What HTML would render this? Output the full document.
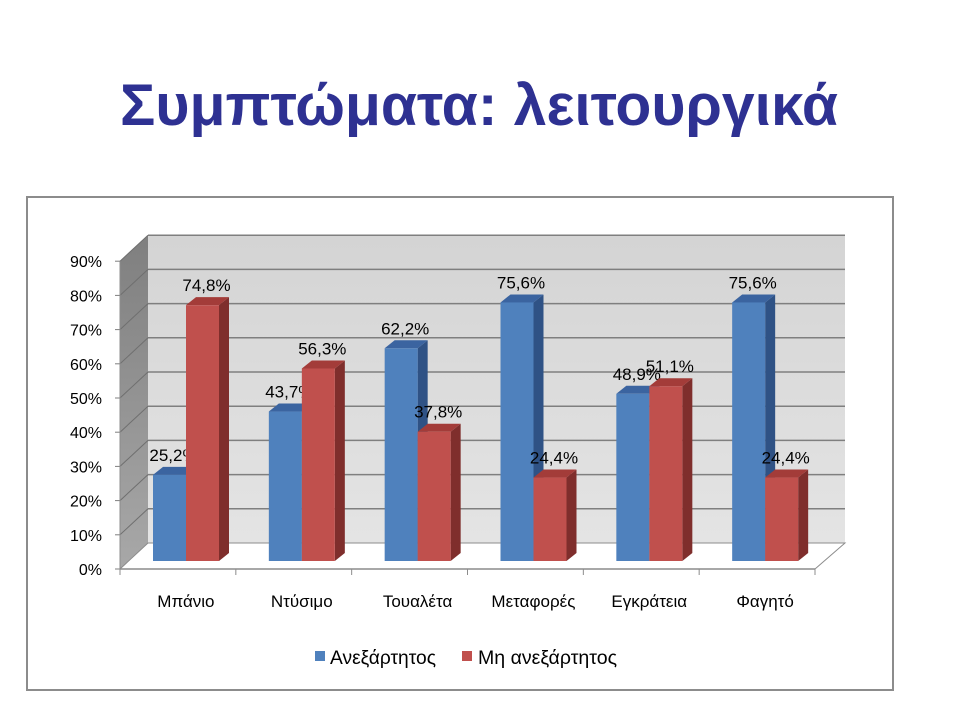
<!DOCTYPE html>
<html><head><meta charset="utf-8"><style>
body{margin:0;background:#fff;}
svg text{font-family:"Liberation Sans","DejaVu Sans",sans-serif;}
</style></head><body>
<svg width="960" height="720" xmlns="http://www.w3.org/2000/svg">
<defs>
<linearGradient id="wall" x1="0" y1="0" x2="0" y2="1"><stop offset="0" stop-color="#d4d4d4"/><stop offset="1" stop-color="#e4e4e4"/></linearGradient>
<linearGradient id="side" x1="0" y1="0" x2="0" y2="1"><stop offset="0" stop-color="#7f7f7f"/><stop offset="1" stop-color="#a8a8a8"/></linearGradient>
</defs>
<text x="120" y="125" font-size="58" font-weight="bold" fill="#2e3192" textLength="718" lengthAdjust="spacingAndGlyphs">Συμπτώματα: λειτουργικά</text>
<rect x="27" y="197" width="866" height="493" fill="#fff" stroke="#8c8c8c" stroke-width="2"/>
<g id="chart"></g>
<g>
<rect x="315" y="651" width="10" height="10" fill="#4f81bd"/>
<text x="330" y="664" font-size="19" fill="#000" textLength="106" lengthAdjust="spacingAndGlyphs">Ανεξάρτητος</text>
<rect x="462" y="651" width="10" height="10" fill="#c0504d"/>
<text x="478" y="664" font-size="19" fill="#000" textLength="139" lengthAdjust="spacingAndGlyphs">Μη ανεξάρτητος</text>
</g>
</svg>
<script>
const categories=["Μπάνιο","Ντύσιμο","Τουαλέτα","Μεταφορές","Εγκράτεια","Φαγητό"];
const independent=[25.2,43.7,62.2,75.6,48.9,75.6];
const dependent=[74.8,56.3,37.8,24.4,51.1,24.4];
const valueLabelsInd=["25,2%","43,7%","62,2%","75,6%","48,9%","75,6%"];
const valueLabelsDep=["74,8%","56,3%","37,8%","24,4%","51,1%","24,4%"];
const yTicks=[0,10,20,30,40,50,60,70,80,90];
const yTickLabels=["0%","10%","20%","30%","40%","50%","60%","70%","80%","90%"];

const NS="http://www.w3.org/2000/svg";
const g=document.getElementById('chart');
const X0=120,X1=815,Y0=569,PX=3.42,DX=28,DY=-26;
const catW=(X1-X0)/categories.length;
const yFront=v=>Y0-v*PX;
const yBar=v=>561-v*PX;
function el(t,a,name){const e=document.createElementNS(NS,t);for(const k in a)e.setAttribute(k,a[k]);g.appendChild(e);return e;}
const yTop=yFront(90);
el('polygon',{points:`${X0+DX},${yTop+DY} ${X1+DX+2},${yTop+DY} ${X1+DX+2},${Y0+DY} ${X0+DX},${Y0+DY}`,fill:'url(#wall)'},'back-wall');
el('polygon',{points:`${X0},${yTop} ${X0+DX},${yTop+DY} ${X0+DX},${Y0+DY} ${X0},${Y0}`,fill:'url(#side)'},'side-wall');
el('polygon',{points:`${X0},${Y0} ${X0+DX},${Y0+DY} ${X1+DX+2},${Y0+DY} ${X1},${Y0}`,fill:'#fff',stroke:'#8c8c8c','stroke-width':1},'floor');
yTicks.forEach((v,i)=>{
  const y=yFront(v);
  if(v>0){
  el('line',{x1:X0+DX,y1:y+DY,x2:X1+DX+2,y2:y+DY,stroke:'#7f7f7f','stroke-width':1.5},'gridline');
  el('line',{x1:X0,y1:y,x2:X0+DX,y2:y+DY,stroke:'#6f6f6f','stroke-width':1},'side-gridline');}
  el('line',{x1:X0-5,y1:y,x2:X0,y2:y,stroke:'#7f7f7f'},'y-tick');
  const t=el('text',{x:X0-18,y:y+6,'font-size':16,'text-anchor':'end',fill:'#000'},'y-tick-label');t.textContent=yTickLabels[i];
});
el('line',{x1:X0,y1:yTop,x2:X0,y2:Y0,stroke:'#8c8c8c'},'y-axis-line');
el('line',{x1:X0,y1:Y0,x2:X1,y2:Y0,stroke:'#8c8c8c','stroke-width':1.5},'x-axis-line');
for(let i=0;i<=categories.length;i++){el('line',{x1:X0+i*catW,y1:Y0,x2:X0+i*catW,y2:Y0+6,stroke:'#8c8c8c'},'x-tick');}
function bar(x,v,front,topc,sidec,label,name){
  const w=33,d=10,dd=-8,yt=yBar(v),yb=561;
  el('polygon',{points:`${x+w},${yt} ${x+w+d},${yt+dd} ${x+w+d},${yb+dd} ${x+w},${yb}`,fill:sidec},name+'-side');
  el('polygon',{points:`${x},${yt} ${x+d},${yt+dd} ${x+w+d},${yt+dd} ${x+w},${yt}`,fill:topc},name+'-top');
  el('rect',{x:x,y:yt,width:w,height:yb-yt,fill:front},name);
  const t=el('text',{x:x+w/2+4,y:yt-14,'font-size':17,'text-anchor':'middle',fill:'#000'},name+'-value-label');t.textContent=label;
}
categories.forEach((c,i)=>{
  const cx=X0+i*catW+33;
  bar(cx,independent[i],'#4f81bd','#3b64a0','#2f5285',valueLabelsInd[i],'bar-independent');
  bar(cx+33,dependent[i],'#c0504d','#a33c39','#7f2e2c',valueLabelsDep[i],'bar-dependent');
  const t=el('text',{x:X0+i*catW+catW/2+8,y:607,'font-size':17,'text-anchor':'middle',fill:'#000'},'x-category-label');t.textContent=c;
});
</script>
</body></html>
